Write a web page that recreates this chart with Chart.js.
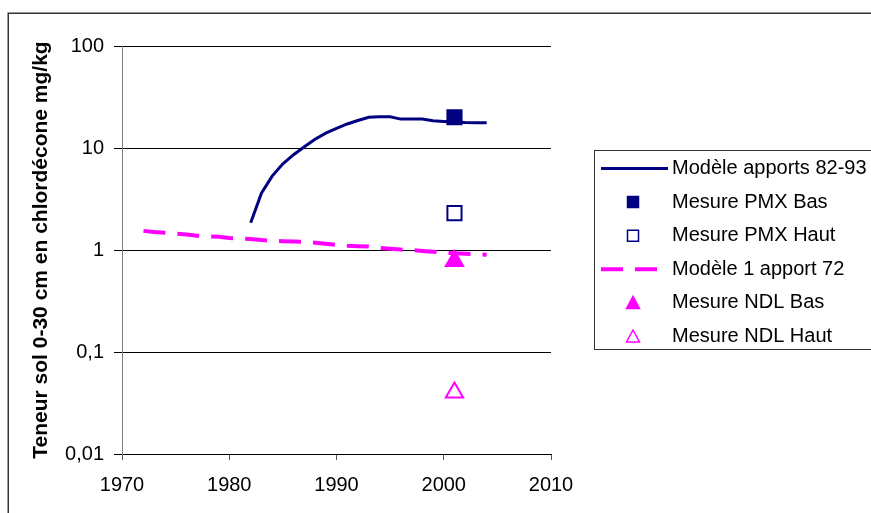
<!DOCTYPE html>
<html>
<head>
<meta charset="utf-8">
<script src="https://cdn.jsdelivr.net/npm/chart.js@4.4.1/dist/chart.umd.min.js"></script>
<style>
  html, body { margin: 0; padding: 0; background: #fff; }
  canvas { display: block; }
</style>
</head>
<body>
<canvas id="chart" width="871" height="513"></canvas>
<script>
// values
const model82Years = [1982, 1983, 1984, 1985, 1986, 1987, 1988, 1989, 1990, 1991, 1992, 1993,
  1994, 1995, 1996, 1997, 1998, 1999, 2000, 2001, 2002, 2003, 2004];
const model82Values = [1.85, 3.6, 5.3, 7.0, 8.6, 10.3, 12.2, 14.0, 15.6, 17.2, 18.6, 20.0,
  20.2, 20.2, 19.2, 19.2, 19.2, 18.5, 18.2, 18.0, 17.8, 17.7, 17.7];

const model72Years = [1972, 1973, 1974, 1975, 1976, 1977, 1978, 1979, 1980, 1981, 1982, 1983,
  1984, 1985, 1986, 1987, 1988, 1989, 1990, 1991, 1992, 1993, 1994, 1995, 1996, 1997, 1998,
  1999, 2000, 2001, 2002, 2003, 2004];
const model72Values = [1.54, 1.50, 1.48, 1.45, 1.42, 1.38, 1.36, 1.35, 1.31, 1.30, 1.28, 1.25,
  1.23, 1.22, 1.21, 1.20, 1.18, 1.15, 1.12, 1.10, 1.09, 1.08, 1.05, 1.03, 1.01, 1.00, 0.98,
  0.96, 0.94, 0.93, 0.92, 0.91, 0.90];

const measureYears = [2001];
const pmxBasValues = [20];
const pmxHautValues = [2.3];
const ndlBasValues = [0.78];
const ndlHautValues = [0.04];

const seriesLabels = ['Modèle apports 82-93', 'Mesure PMX Bas', 'Mesure PMX Haut',
  'Modèle 1 apport 72', 'Mesure NDL Bas', 'Mesure NDL Haut'];

const xTicks = [1970, 1980, 1990, 2000, 2010];
const yTicks = [0.01, 0.1, 1, 10, 100];
const yTickLabels = ['0,01', '0,1', '1', '10', '100'];
const yTitle = 'Teneur sol 0-30 cm en chlordécone mg/kg';

const NAVY = '#000080';
const MAGENTA = '#FF00FF';

function toPoints(xs, ys) {
  return xs.map((x, i) => ({ x: x, y: ys[i] }));
}

Chart.defaults.font.family = "'Liberation Sans', Arial, sans-serif";
Chart.defaults.color = '#000';

// frame around the whole chart + boxed legend on the right
const frameAndLegend = {
  id: 'frameAndLegend',
  afterDraw(chart) {
    const ctx = chart.ctx;
    ctx.save();
    ctx.strokeStyle = '#333';
    ctx.lineWidth = 1.5;
    ctx.strokeRect(8.25, 13.25, 900, 600);

    ctx.lineWidth = 1;
    ctx.strokeRect(594.5, 150.5, 300, 199);

    ctx.font = "20px 'Liberation Sans', Arial, sans-serif";
    ctx.textBaseline = 'middle';
    ctx.fillStyle = '#000';

    chart.data.datasets.forEach((ds, i) => {
      const y = 168.5 + i * 33.6;
      const cx = 633;
      ctx.save();
      if (ds.showLine) {
        ctx.strokeStyle = ds.borderColor;
        ctx.lineWidth = ds.borderWidth;
        ctx.setLineDash(ds.borderDash || []);
        ctx.beginPath();
        ctx.moveTo(601, y);
        ctx.lineTo(668, y);
        ctx.stroke();
      } else {
        ctx.fillStyle = ds.pointBackgroundColor;
        ctx.strokeStyle = ds.pointBorderColor;
        ctx.lineWidth = 1.5;
        ctx.beginPath();
        if (ds.pointStyle === 'rect') {
          ctx.rect(cx - 5.5, y - 5.5, 11, 11);
        } else {
          ctx.moveTo(cx, y - 6.5);
          ctx.lineTo(cx + 6.5, y + 5.5);
          ctx.lineTo(cx - 6.5, y + 5.5);
          ctx.closePath();
        }
        ctx.fill();
        ctx.stroke();
      }
      ctx.restore();
      ctx.fillText(ds.label, 672, y);
    });
    ctx.restore();
  }
};

const lineSet = (label, pts, color, width, dash) => ({
  label: label,
  data: pts,
  showLine: true,
  borderColor: color,
  borderWidth: width,
  borderDash: dash,
  borderCapStyle: 'butt',
  pointRadius: 0,
  tension: 0,
  order: 2
});

const markerSet = (label, pts, style, fill, stroke, radius) => ({
  label: label,
  data: pts,
  showLine: false,
  pointStyle: style,
  pointRadius: radius,
  pointBackgroundColor: fill,
  pointBorderColor: stroke,
  pointBorderWidth: 2,
  order: 1
});

const chartConfig = {
  type: 'scatter',
  data: {
    datasets: [
      lineSet(seriesLabels[0], toPoints(model82Years, model82Values), NAVY, 3, []),
      markerSet(seriesLabels[1], toPoints(measureYears, pmxBasValues), 'rect', NAVY, NAVY, 10),
      markerSet(seriesLabels[2], toPoints(measureYears, pmxHautValues), 'rect', '#fff', NAVY, 10),
      lineSet(seriesLabels[3], toPoints(model72Years, model72Values), MAGENTA, 4, [22, 12]),
      markerSet(seriesLabels[4], toPoints(measureYears, ndlBasValues), 'triangle', MAGENTA, MAGENTA, 10),
      markerSet(seriesLabels[5], toPoints(measureYears, ndlHautValues), 'triangle', '#fff', MAGENTA, 10)
    ]
  },
  options: {
    responsive: false,
    animation: false,
    layout: { padding: { left: 0, top: 46, right: 320, bottom: 0 } },
    plugins: {
      legend: { display: false },
      tooltip: { enabled: false }
    },
    scales: {
      x: {
        type: 'linear',
        min: 1970,
        max: 2010,
        afterBuildTicks: (axis) => { axis.ticks = xTicks.map(v => ({ value: v })); },
        afterFit: (axis) => { axis.height = 59; },
        ticks: {
          font: { size: 20 },
          padding: 13,
          maxRotation: 0,
          callback: (v) => String(v)
        },
        grid: {
          drawOnChartArea: false,
          drawTicks: true,
          tickLength: 6,
          color: '#555'
        },
        border: { color: '#000', width: 1 }
      },
      y: {
        type: 'logarithmic',
        min: 0.01,
        max: 100,
        afterBuildTicks: (axis) => { axis.ticks = yTicks.map(v => ({ value: v })); },
        afterFit: (axis) => { axis.width = 122; },
        ticks: {
          font: { size: 20 },
          padding: 10,
          callback: (v, i) => yTickLabels[i]
        },
        grid: {
          color: '#000',
          lineWidth: 1,
          tickLength: 8
        },
        border: { color: '#808080', width: 1 },
        title: {
          display: true,
          text: yTitle,
          font: { size: 21, weight: 'bold' },
          padding: { top: 29, bottom: 0 }
        }
      }
    }
  },
  plugins: [frameAndLegend]
};

const ctx = document.getElementById('chart').getContext('2d');
const chart = new Chart(ctx, chartConfig);
</script>
</body>
</html>
